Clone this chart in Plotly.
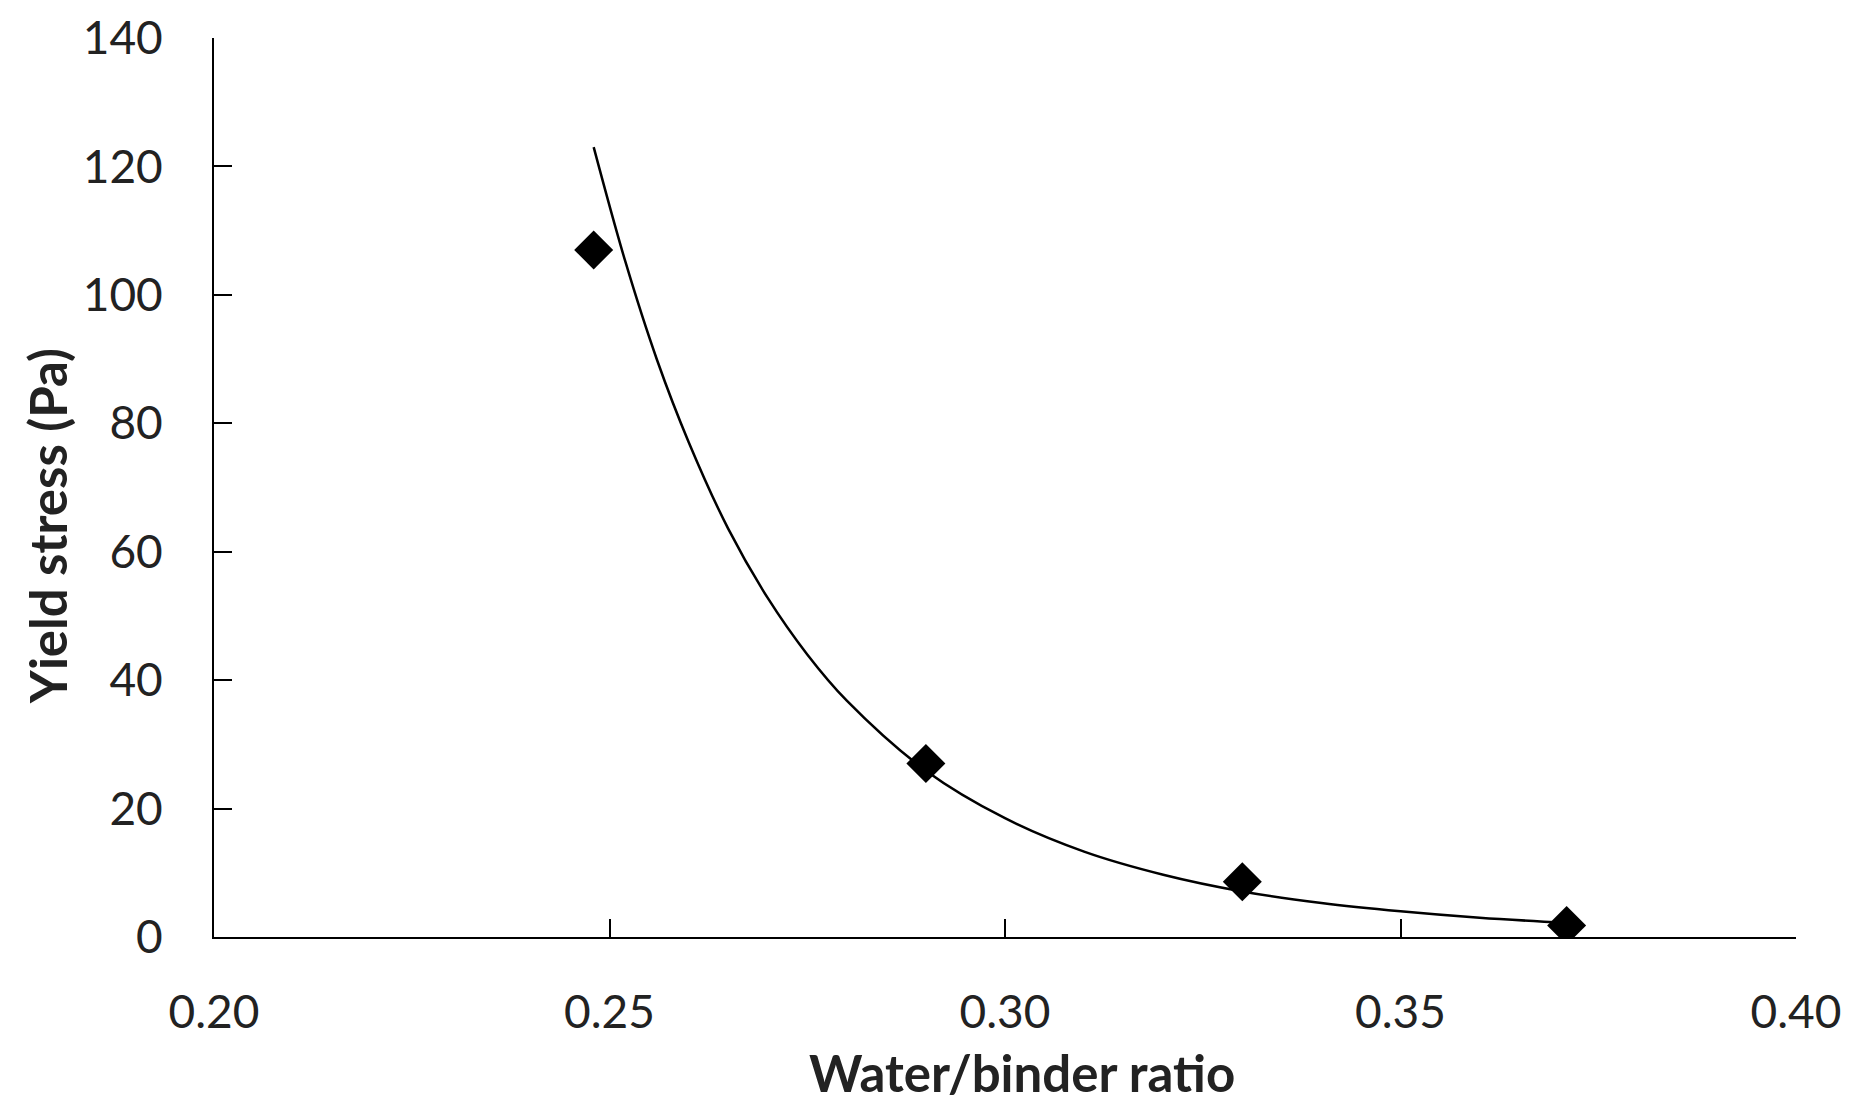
import plotly.graph_objects as go

# measured points
wb_ratio = [0.248, 0.290, 0.330, 0.371]
yield_stress = [107, 27, 8.6, 1.8]

# trendline
trend_x = [0.248, 0.252, 0.256, 0.260, 0.265, 0.270, 0.275, 0.280, 0.290,
           0.300, 0.310, 0.320, 0.330, 0.340, 0.350, 0.360, 0.371]
trend_y = [123, 105.2, 89.9, 77.1, 63.6, 52.8, 44.0, 36.8, 25.9,
           18.5, 13.3, 9.7, 7.1, 5.3, 4.0, 3.0, 2.2]

x_ticks = [0.20, 0.25, 0.30, 0.35, 0.40]
y_ticks = [0, 20, 40, 60, 80, 100, 120, 140]

fig = go.Figure()
fig.add_trace(
    go.Scatter(
        x=trend_x, y=trend_y,
        mode="lines",
        line=dict(color="black", width=2.5, shape="spline"),
        showlegend=False
    )
)
fig.add_trace(
    go.Scatter(
        x=wb_ratio, y=yield_stress,
        mode="markers",
        marker=dict(symbol="diamond", size=30, color="black"),
        showlegend=False
    )
)

font_name = "Lato"
fig.update_layout(
    width=1853, height=1101,
    plot_bgcolor="white", paper_bgcolor="white",
    margin=dict(l=206, r=65, t=30, b=172),
    font=dict(family=font_name, color="#222222"),
    xaxis=dict(
        range=[0.20, 0.40], tickvals=x_ticks,
        ticktext=[f"{v:.2f}" for v in x_ticks],
        showgrid=False, zeroline=False, automargin=False,
        showline=True, linecolor="black", linewidth=2,
        ticks="inside", ticklen=18, tickwidth=2, tickcolor="black",
        tickfont=dict(size=46, family=font_name),
        ticklabelstandoff=34
    ),
    yaxis=dict(
        range=[0, 140], tickvals=y_ticks,
        showgrid=False, zeroline=False, automargin=False,
        showline=True, linecolor="black", linewidth=2,
        ticks="inside", ticklen=18, tickwidth=2, tickcolor="black",
        tickfont=dict(size=46, family=font_name),
        ticklabelstandoff=40
    ),
    # axis titles as annotations, they sit a bit off-centre in the original
    annotations=[
        dict(
            text="<b>Water/binder ratio</b>",
            xref="paper", yref="paper", x=0.511, y=0,
            xanchor="center", yanchor="middle", yshift=-135,
            showarrow=False, font=dict(size=51, family=font_name)
        ),
        dict(
            text="<b>Yield stress (Pa)</b>",
            xref="paper", yref="paper", x=0, y=0.457,
            xanchor="center", yanchor="middle", xshift=-167,
            textangle=-90, showarrow=False, font=dict(size=51, family=font_name)
        )
    ]
)

fig.write_html("out.html")
